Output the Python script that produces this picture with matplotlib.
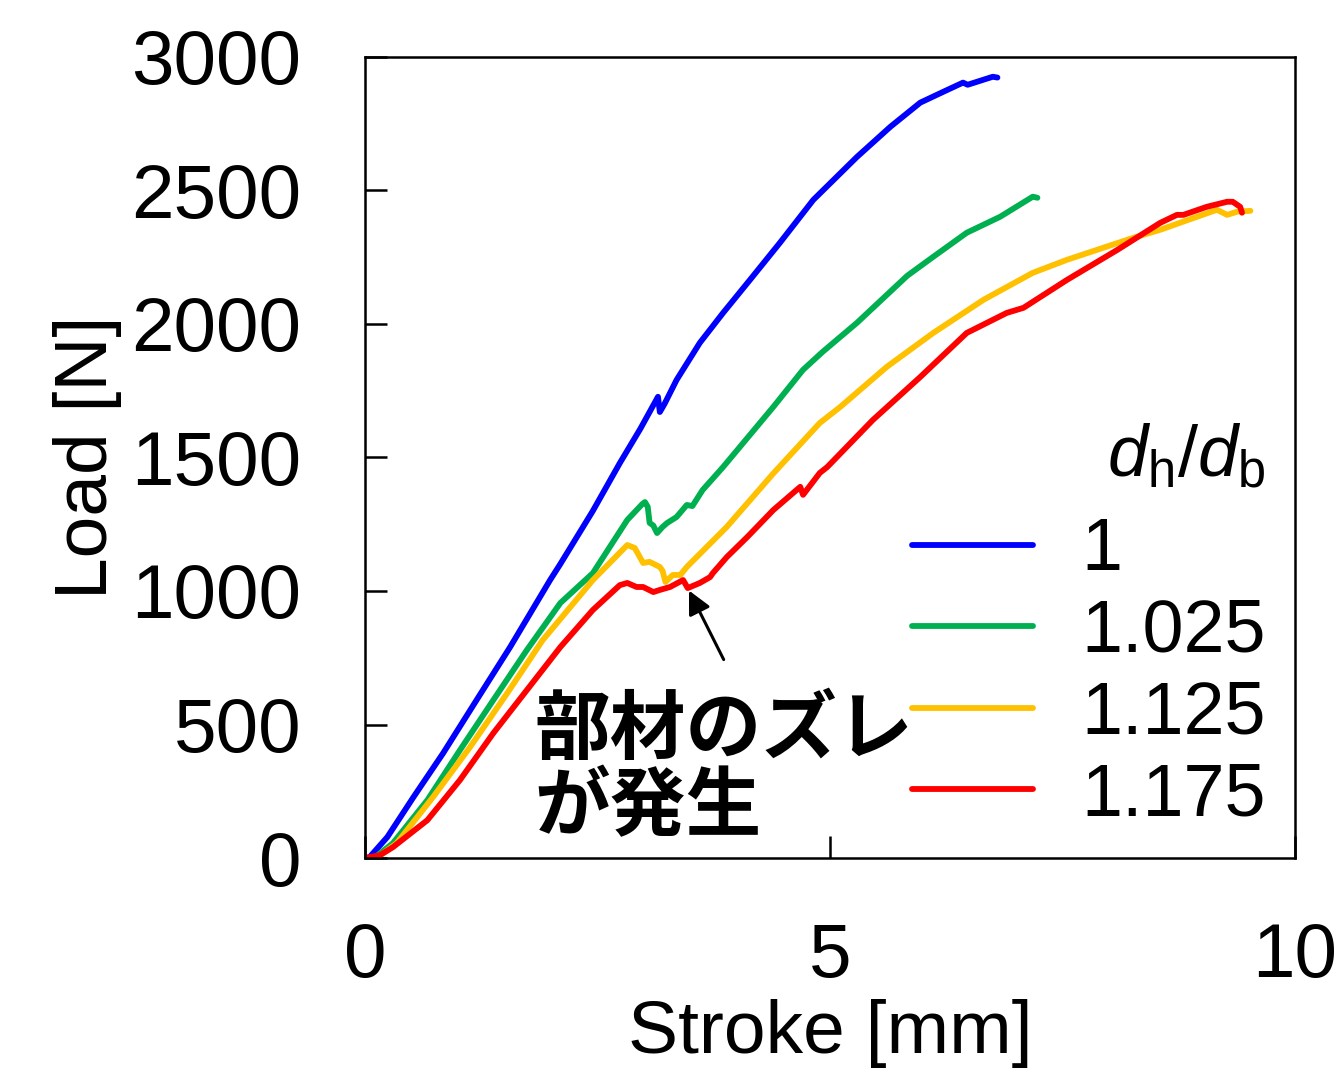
import numpy as np
import matplotlib
matplotlib.use('Agg')
import matplotlib.pyplot as plt

plt.rcParams['font.family'] = ['Liberation Sans', 'DejaVu Sans']
plt.rcParams['mathtext.fontset'] = 'custom'
plt.rcParams['mathtext.rm'] = 'Liberation Sans'
plt.rcParams['mathtext.it'] = 'Liberation Sans:italic'

# d_h/d_b = 1
x_1 = [0.0, 0.05, 0.24, 0.52, 0.84, 1.20, 1.56, 1.99, 2.10, 2.45, 2.74, 2.96, 3.15, 3.17, 3.22, 3.35,
       3.60, 3.85, 4.14, 4.46, 4.82, 5.29, 5.65, 5.97, 6.22, 6.43, 6.48, 6.75, 6.80]
y_1 = [0, 4, 79, 228, 393, 592, 790, 1041, 1101, 1300, 1479, 1607, 1727, 1670, 1700, 1790,
       1929, 2041, 2165, 2303, 2464, 2625, 2738, 2828, 2869, 2903, 2895, 2925, 2922]

# d_h/d_b = 1.025
x_2 = [0.0, 0.11, 0.30, 0.67, 1.02, 1.38, 1.74, 2.10, 2.45, 2.82, 2.98, 3.01, 3.04, 3.06, 3.10, 3.14,
       3.20, 3.25, 3.35, 3.46, 3.52, 3.63, 3.85, 4.39, 4.71, 4.92, 5.29, 5.83, 6.11, 6.47, 6.65,
       6.83, 7.18, 7.23]
y_2 = [0, 4, 56, 217, 404, 592, 779, 955, 1067, 1266, 1325, 1333, 1315, 1255, 1245, 1217,
       1240, 1255, 1277, 1322, 1318, 1378, 1464, 1689, 1828, 1895, 2004, 2180, 2251, 2341, 2371,
       2401, 2476, 2472]

# d_h/d_b = 1.125
x_3 = [0.0, 0.14, 0.34, 0.73, 1.13, 1.53, 1.91, 2.45, 2.82, 2.90, 2.99, 3.06, 3.17, 3.20, 3.23, 3.31,
       3.39, 3.46, 3.89, 4.39, 4.89, 5.11, 5.61, 6.11, 6.65, 7.18, 7.55, 7.94, 8.26, 8.55, 8.76,
       9.16, 9.27, 9.38, 9.52]
y_3 = [0, 4, 56, 228, 416, 618, 816, 1041, 1172, 1161, 1105, 1109, 1090, 1075, 1034, 1060,
       1060, 1090, 1240, 1440, 1629, 1689, 1839, 1966, 2090, 2191, 2240, 2285, 2322, 2352, 2378,
       2427, 2408, 2420, 2423]

# d_h/d_b = 1.175
x_4 = [0.0, 0.16, 0.30, 0.67, 1.02, 1.38, 1.74, 2.10, 2.45, 2.74, 2.82, 2.92, 2.99, 3.10, 3.17, 3.28,
       3.42, 3.47, 3.60, 3.71, 3.74, 3.89, 4.11, 4.39, 4.68, 4.71, 4.89, 4.97, 5.46, 5.97, 6.47,
       6.90, 7.08, 7.55, 8.09, 8.55, 8.73, 8.80, 9.05, 9.27, 9.33, 9.41, 9.43]
y_4 = [0, 11, 41, 142, 292, 468, 629, 790, 929, 1022, 1030, 1015, 1015, 996, 1004, 1015,
       1041, 1011, 1030, 1052, 1067, 1127, 1202, 1303, 1390, 1360, 1442, 1464, 1640, 1801, 1966,
       2041, 2060, 2165, 2277, 2378, 2408, 2408, 2438, 2457, 2457, 2438, 2416]

labels = ['1', '1.025', '1.125', '1.175']
colors = ['#0000FF', '#00B050', '#FFC000', '#FF0000']

fig = plt.figure(figsize=(13.42, 10.70), dpi=100)
ax = fig.add_axes([0.272, 0.198, 0.693, 0.749])

for xs, ys, lab, c in zip([x_1, x_2, x_3, x_4], [y_1, y_2, y_3, y_4], labels, colors):
	ax.plot(xs, ys, color=c, lw=4.2, label=lab, solid_joinstyle='round', solid_capstyle='round')

ax.set_xlim(0, 10)
ax.set_ylim(0, 3000)
ax.set_xticks([0, 5, 10])
ax.set_yticks(np.arange(0, 3001, 500))
ax.tick_params(direction='in', length=16, width=1.8, labelsize=55, pad=46)
for s in ax.spines.values():
	s.set_linewidth(1.8)

ax.set_xlabel('Stroke [mm]', fontsize=54, labelpad=4)
ax.set_ylabel('Load [N]', fontsize=54, labelpad=6.5)

leg = ax.legend(title=r'$d_\mathrm{h}/d_\mathrm{b}$', frameon=False, fontsize=53, title_fontsize=52,
                loc='lower right', bbox_to_anchor=(1.016, -0.02), handlelength=1.65, handletextpad=0.65,
                labelspacing=0.17, alignment='right', borderaxespad=0.2)
leg._legend_box.sep += 9

ax.annotate('', xy=(3.47, 1011), xytext=(3.87, 734),
            arrowprops=dict(arrowstyle='-|>,head_length=1.4,head_width=0.7', color='black', lw=2.2))
ax.text(1.82, 625, '部材のズレ\nが発生', fontsize=54.5, fontweight='bold', family=['Noto Sans CJK JP'],
        va='top', ha='left', linespacing=1.0)

fig.savefig('out.png', dpi=100)
